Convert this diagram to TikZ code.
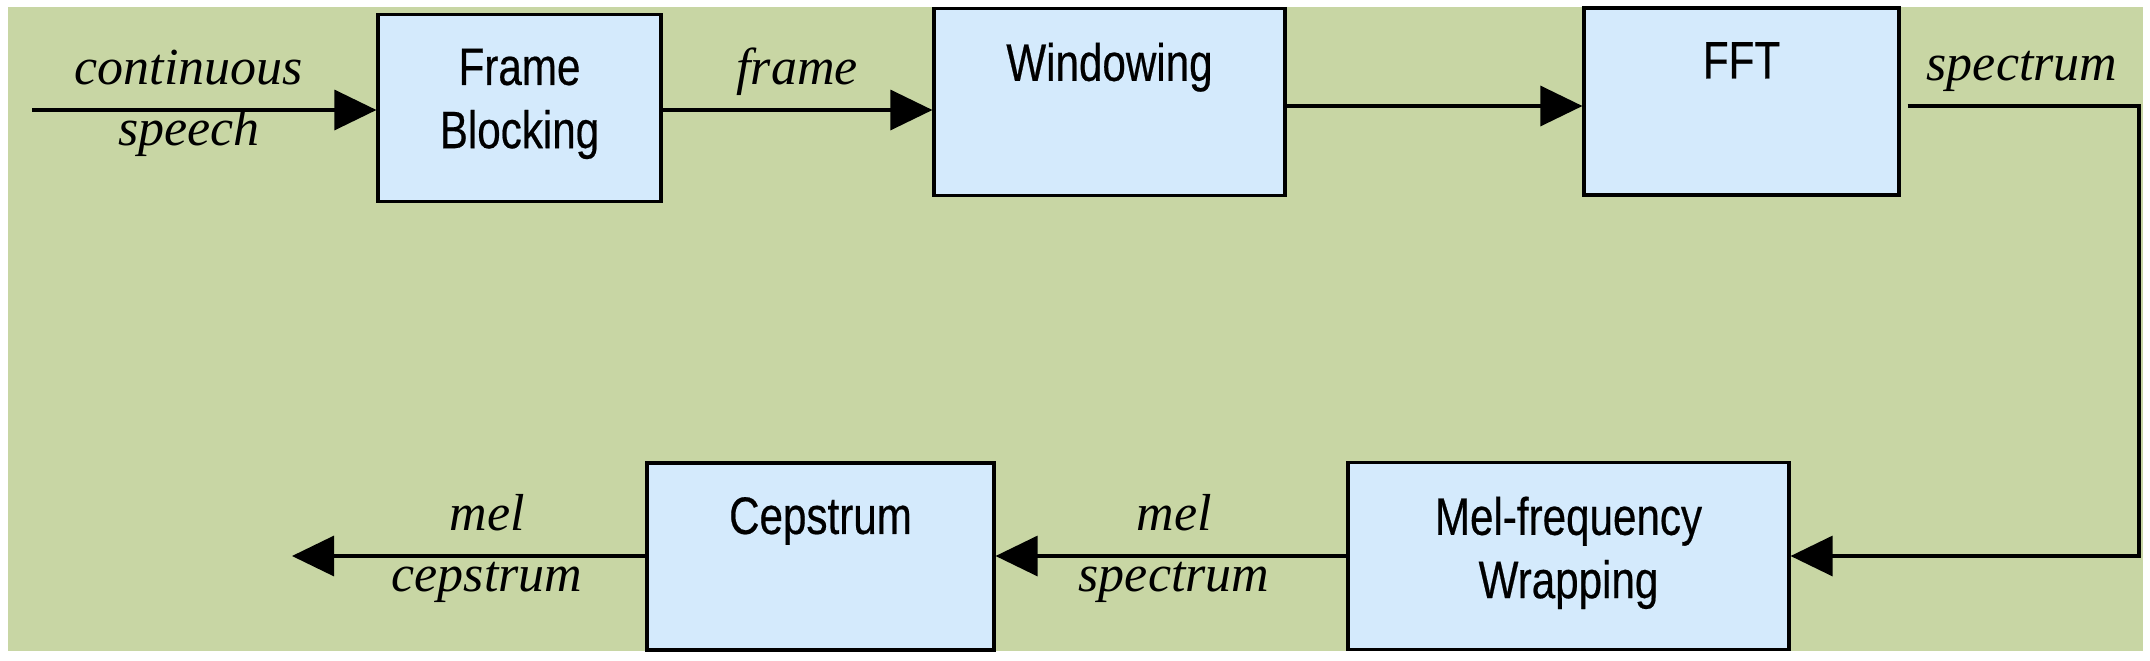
\documentclass[tikz,border=0pt]{standalone}
\usepackage{fontspec}
\setmainfont{Liberation Serif}
\newfontfamily\blockfont[FakeStretch=0.8, FakeBold=0.4]{Liberation Sans}
\usetikzlibrary{arrows.meta, positioning, calc}
\definecolor{bggreen}{RGB}{200, 214, 164}
\definecolor{boxblue}{RGB}{212, 234, 252}
\tikzset{
  >=Triangle,
  sigarrow/.style={-{Triangle[length=4.2mm, width=4mm]}, line width=0.9pt, black},
  sigline/.style={line width=0.9pt, black}
}

\begin{document}
\begin{tikzpicture}[
    blk/.style={rectangle, draw=black, fill=boxblue, line width=0.9pt, minimum height=1.87cm, inner sep=0pt},
    blktext/.style={font=\blockfont\fontsize{15}{18}\selectfont, align=center, inner sep=0pt},
    sig/.style={font=\fontsize{14.8}{17}\selectfont\itshape, anchor=base, inner sep=0pt}
]
    \useasboundingbox (0,0) rectangle (21.5,6.6);
    % Background
    \fill[bggreen] (0.08,0.09) rectangle (21.43,6.53);

    % Top row
    \node[blk, minimum width=2.83cm] (frame) at (5.195, 5.52) {};
    \node[blk, minimum width=3.51cm] (window) at (11.095, 5.58) {};
    \node[blk, minimum width=3.15cm] (fft) at (17.415, 5.585) {};

    % Bottom row
    \node[blk, minimum width=4.41cm] (melwrap) at (15.685, 1.04) {};
    \node[blk, minimum width=3.47cm] (ceps) at (8.205, 1.035) {};

    % Block texts
    \node[blktext, below=0.35cm of frame.north] (frameT) {Frame\\Blocking};
    \node[blktext, below=0.35cm of window.north] (windowT) {Windowing};
    \node[blktext, below=0.35cm of fft.north] (fftT) {FFT};
    \node[blktext, below=0.35cm of melwrap.north] (melwrapT) {Mel-frequency\\Wrapping};
    \node[blktext, below=0.35cm of ceps.north] (cepsT) {Cepstrum};

    % Free ends
    \coordinate (in) at (0.32, 5.50);
    \coordinate (mid) at (0, 5.54);
    \coordinate (turn) at (21.39, 0);
    \coordinate (out) at (2.92, 1.04);

    % Arrows
    \draw[sigarrow] (in) -- (in -| frame.west);
    \draw[sigarrow] (frame.east |- in) -- (in -| window.west);
    \draw[sigarrow] (window.east |- mid) -- (mid -| fft.west);
    \draw[sigarrow, shorten <=0.07cm] (fft.east |- mid) -- (mid -| turn) |- (melwrap.east);
    \draw[sigarrow] (melwrap.west) -- (melwrap.west -| ceps.east);
    \draw[sigarrow] (ceps.west |- out) -- (out);

    % Signal labels
    \node[sig] (lcont) at (1.89, 5.76) {continuous};
    \node[sig] (lspeech) at (1.89, 5.15) {speech};
    \node[sig] (lframe) at (7.97, 5.76) {frame};
    \node[sig] (lspec) at (20.22, 5.80) {spectrum};
    \node[sig] (lmel) at (11.74, 1.30) {mel};
    \node[sig] (lmelspec) at (11.74, 0.69) {spectrum};
    \node[sig] (lmelc) at (4.87, 1.30) {mel};
    \node[sig] (lceps) at (4.87, 0.69) {cepstrum};
\end{tikzpicture}
\end{document}
